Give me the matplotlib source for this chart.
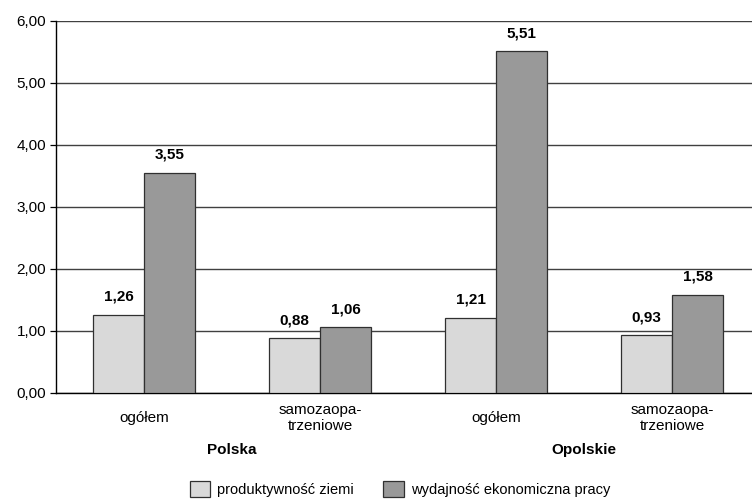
import matplotlib
matplotlib.use('Agg')
import matplotlib.pyplot as plt
import numpy as np

plt.rcParams['font.family'] = ['Liberation Sans', 'DejaVu Sans']

# data
categories = ['ogółem', 'samozaopa-\ntrzeniowe', 'ogółem', 'samozaopa-\ntrzeniowe']
groups = ['Polska', 'Opolskie']
produktywnosc = [1.26, 0.88, 1.21, 0.93]
wydajnosc = [3.55, 1.06, 5.51, 1.58]
series_names = ['produktywność ziemi', 'wydajność ekonomiczna pracy']
yticks = [0, 1, 2, 3, 4, 5, 6]


def fmt(v):
    return f'{v:.2f}'.replace('.', ',')


fig = plt.figure(figsize=(7.52, 5.0), dpi=100)
# axes runs a bit past the right edge, as in the original
ax = fig.add_axes([56 / 752, 107 / 500, 704 / 752, 372 / 500])

x = np.arange(len(categories))
w = 0.29
b1 = ax.bar(x - w / 2, produktywnosc, w, color='#d9d9d9', edgecolor='#303030', linewidth=0.9, zorder=3)
b2 = ax.bar(x + w / 2, wydajnosc, w, color='#999999', edgecolor='#303030', linewidth=0.9, zorder=3)

for bars, vals in [(b1, produktywnosc), (b2, wydajnosc)]:
    for r, v in zip(bars, vals):
        ax.annotate(fmt(v), (r.get_x() + r.get_width() / 2, v), xytext=(0, 13),
                    textcoords='offset points', ha='center', va='center',
                    fontsize=11, fontweight='bold')

ax.set_xlim(-0.5, 3.5)
ax.set_ylim(0, 6)
ax.set_yticks(yticks)
ax.set_yticklabels([fmt(t) for t in yticks], fontsize=11)
ax.yaxis.grid(True, color='#404040', linewidth=1.0, zorder=0)
ax.set_axisbelow(True)

ax.set_xticks(x)
ax.set_xticklabels(categories, fontsize=11, linespacing=1.2)
ax.tick_params(axis='x', length=0, pad=18)
for lab in ax.get_xticklabels():
    lab.set_verticalalignment('center')
ax.tick_params(axis='y', length=4, width=0.9, direction='out', pad=3)

for s in ['top', 'right']:
    ax.spines[s].set_visible(False)
ax.spines['left'].set_linewidth(1.0)
ax.spines['bottom'].set_linewidth(1.0)

trans = ax.get_xaxis_transform()
for gx, g in zip([0.5, 2.5], groups):
    ax.annotate(g, (gx, 0), xycoords=trans, xytext=(0, -41), textcoords='offset points',
                ha='center', va='center', fontsize=11, fontweight='bold')

fig.legend([b1, b2], series_names, loc='center', bbox_to_anchor=(400 / 752, 1 - 489 / 500),
           ncol=2, frameon=False, fontsize=10.5, handlelength=1.4, handleheight=1.4,
           handletextpad=0.5, columnspacing=2.0)

fig.savefig('out.png', dpi=100)
